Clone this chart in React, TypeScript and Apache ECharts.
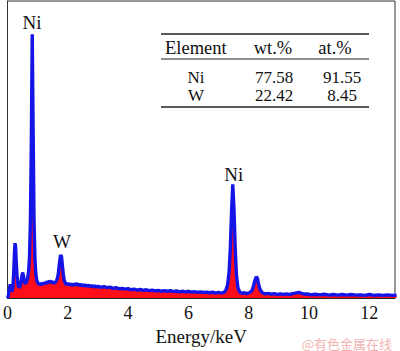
import React, { useEffect, useRef } from "react";
import * as echarts from "echarts";

// Energy (keV) and intensity (arbitrary units)
const energy = [
  0.0, 0.03, 0.06, 0.09, 0.12, 0.15, 0.18, 0.21, 0.23, 0.25, 0.27, 0.29, 0.32, 0.35, 0.38, 0.41, 0.44, 0.47, 0.5, 0.53,
  0.56, 0.59, 0.62, 0.66, 0.7, 0.73, 0.76, 0.79, 0.82, 0.85, 0.88, 0.91, 0.94, 0.97, 1.0, 1.04, 1.08, 1.12, 1.16, 1.2,
  1.24, 1.28, 1.32, 1.36, 1.4, 1.44, 1.48, 1.52, 1.56, 1.6, 1.64, 1.68, 1.72, 1.76, 1.79, 1.82, 1.85, 1.88, 1.92, 1.96,
  2.0, 2.05, 2.1, 2.15, 2.2, 2.25, 2.3, 2.35, 2.4, 2.45, 2.5, 2.55, 2.6, 2.65, 2.7, 2.75, 2.8, 2.85, 2.9, 2.95,
  3.0, 3.1, 3.2, 3.3, 3.4, 3.5, 3.6, 3.7, 3.8, 3.9, 4.0, 4.1, 4.2, 4.3, 4.4, 4.5, 4.6, 4.7, 4.8, 4.9,
  5.0, 5.1, 5.2, 5.3, 5.4, 5.5, 5.6, 5.7, 5.8, 5.9, 6.0, 6.1, 6.2, 6.3, 6.4, 6.5, 6.6, 6.7, 6.8, 6.9,
  7.0, 7.1, 7.18, 7.24, 7.3, 7.35, 7.39, 7.43, 7.47, 7.51, 7.55, 7.59, 7.64, 7.7, 7.78, 7.86, 7.94, 8.02, 8.1, 8.15,
  8.2, 8.25, 8.29, 8.33, 8.38, 8.45, 8.55, 8.65, 8.75, 8.85, 8.95, 9.05, 9.15, 9.25, 9.35, 9.45, 9.55, 9.65, 9.75, 9.85,
  9.95, 10.05, 10.2, 10.35, 10.5, 10.65, 10.8, 10.95, 11.1, 11.25, 11.4, 11.55, 11.7, 11.85, 12.0, 12.15, 12.3, 12.45, 12.6, 12.75,
  12.9,
];
const intensity = [
  0.0, 0.8, 3.0, 4.6, 3.2, 2.2, 3.8, 9.5, 15.0, 18.5, 17.0, 12.0, 7.0, 4.5, 3.6, 3.8, 4.8, 7.0, 8.6, 7.5,
  5.5, 4.8, 5.2, 6.2, 9.0, 14.0, 26.0, 52.0, 88.8, 56.0, 26.0, 13.0, 8.0, 6.0, 5.2, 4.6, 5.0, 4.4, 5.1, 4.7,
  5.3, 4.9, 5.6, 5.2, 5.8, 5.3, 5.6, 5.0, 5.2, 5.4, 6.2, 7.8, 11.5, 14.5, 14.0, 11.0, 8.0, 6.0, 5.0, 4.6,
  4.9, 4.4, 4.8, 4.3, 4.7, 4.5, 4.9, 4.3, 4.6, 4.2, 4.5, 4.1, 4.4, 4.0, 4.3, 3.9, 4.2, 3.8, 4.1, 3.7,
  4.0, 3.6, 3.9, 3.5, 3.7, 3.3, 3.5, 3.1, 3.3, 3.0, 3.2, 2.8, 3.0, 2.7, 2.9, 2.6, 2.8, 2.5, 2.7, 2.4,
  2.6, 2.3, 2.5, 2.3, 2.5, 2.2, 2.4, 2.1, 2.3, 2.1, 2.3, 2.0, 2.2, 1.9, 2.1, 1.9, 2.0, 1.8, 2.0, 1.7,
  1.9, 1.7, 1.9, 2.6, 4.5, 9.0, 17.0, 29.0, 38.3, 30.0, 17.0, 8.0, 3.5, 2.0, 1.6, 1.8, 1.5, 1.8, 2.4, 3.8,
  5.8, 7.2, 6.6, 4.5, 2.8, 1.8, 1.4, 1.6, 1.3, 1.5, 1.2, 1.4, 1.2, 1.4, 1.2, 1.5, 1.7, 1.9, 1.6, 1.3,
  1.4, 1.1, 1.3, 1.1, 1.3, 1.0, 1.2, 1.0, 1.2, 1.0, 1.2, 1.0, 1.1, 0.9, 1.2, 0.9, 1.1, 0.9, 1.1, 0.9,
  1.0,
];

// Peak labels: [text, energy, intensity of label centre]
const peakNames = ["Ni", "W", "Ni"];
const peakEnergy = [0.81, 1.81, 7.5];
const peakLabelLevel = [92.8, 19.2, 41.6];

// Composition table
const tableHeader = ["Element", "wt.%", "at.%"];
const tableElements = ["Ni", "W"];
const tableWt = ["77.58", "22.42"];
const tableAt = ["91.55", "8.45"];

const xTicks = { min: 0, max: 12.85, interval: 2 };

const SERIF = "Times New Roman, Liberation Serif, Times, serif";

export default function App() {
  const ref = useRef<HTMLDivElement>(null);

  useEffect(() => {
    document.body.style.margin = "0";
    if (!ref.current) return;
    const chart = echarts.init(ref.current, undefined, { renderer: "svg" });

    const data = energy.map((e, i) => [e, intensity[i]]);

    const colX = [196, 274, 342];
    const headerX = [197, 273, 335];
    const rowY = [77, 95];
    const textStyle = (text: string, x: number, y: number, align = "center", size = 17) => ({
      type: "text",
      style: {
        text,
        x,
        y,
        fill: "#111",
        fontFamily: SERIF,
        fontSize: size,
        align,
        textAlign: align,
        verticalAlign: "middle",
        textVerticalAlign: "middle",
      },
    });

    const graphics: any[] = [
      { type: "line", shape: { x1: 161, y1: 34, x2: 369, y2: 34 }, style: { stroke: "#222", lineWidth: 1.6 } },
      { type: "line", shape: { x1: 161, y1: 59, x2: 369, y2: 59 }, style: { stroke: "#222", lineWidth: 1.2 } },
      { type: "line", shape: { x1: 161, y1: 107, x2: 369, y2: 107 }, style: { stroke: "#222", lineWidth: 1.6 } },
      textStyle(tableHeader[0], 165, 48, "left", 18.5),
      textStyle(tableHeader[1], headerX[1], 48, "center", 18.5),
      textStyle(tableHeader[2], headerX[2], 48, "center", 18.5),
    ];
    tableElements.forEach((el, i) => {
      graphics.push(textStyle(el, colX[0], rowY[i]));
      graphics.push(textStyle(tableWt[i], colX[1], rowY[i]));
      graphics.push(textStyle(tableAt[i], colX[2], rowY[i]));
    });
    graphics.push({
      type: "text",
      style: {
        text: "@有色金属在线",
        x: 392,
        y: 343,
        fill: "#f1b3b3",
        fontFamily: "Noto Sans CJK SC, sans-serif",
        fontSize: 13,
        align: "right",
        textAlign: "right",
        verticalAlign: "middle",
        textVerticalAlign: "middle",
      },
    });

    chart.setOption({
      animation: false,
      backgroundColor: "#fff",
      grid: {
        left: 4,
        right: 5,
        top: 1,
        bottom: 47,
        show: true,
        borderColor: "#333",
        borderWidth: 1,
        containLabel: false,
      },
      xAxis: {
        type: "value",
        min: xTicks.min,
        max: xTicks.max,
        interval: xTicks.interval,
        name: "Energy/keV",
        nameLocation: "middle",
        nameGap: 28,
        nameTextStyle: { fontFamily: SERIF, fontSize: 19, color: "#111" },
        axisLine: { show: true, lineStyle: { color: "#222", width: 1 } },
        axisTick: { show: true, inside: true, length: 4, lineStyle: { color: "#222" } },
        axisLabel: { fontFamily: SERIF, fontSize: 18, color: "#111", margin: 6 },
        splitLine: { show: false },
      },
      yAxis: {
        type: "value",
        min: 0,
        max: 100,
        axisLine: { show: true, lineStyle: { color: "#333" } },
        axisTick: { show: false },
        axisLabel: { show: false },
        splitLine: { show: false },
      },
      series: [
        {
          type: "line",
          data,
          symbol: "none",
          smooth: false,
          lineStyle: { color: "#1414e6", width: 3.4 },
          areaStyle: { color: "#ff0d1a", opacity: 1 },
          z: 2,
          markPoint: {
            symbol: "rect",
            symbolSize: 1,
            itemStyle: { color: "rgba(0,0,0,0)" },
            label: {
              show: true,
              position: "inside",
              formatter: "{b}",
              fontFamily: SERIF,
              fontSize: 19,
              color: "#111",
            },
            data: peakNames.map((n, i) => ({ name: n, coord: [peakEnergy[i], peakLabelLevel[i]] })),
          },
        },
      ],
      graphic: graphics,
    });

    return () => chart.dispose();
  }, []);

  return (
    <div
      ref={ref}
      style={{ width: 400, height: 351, position: "absolute", left: 0, top: 0 }}
    />
  );
}
